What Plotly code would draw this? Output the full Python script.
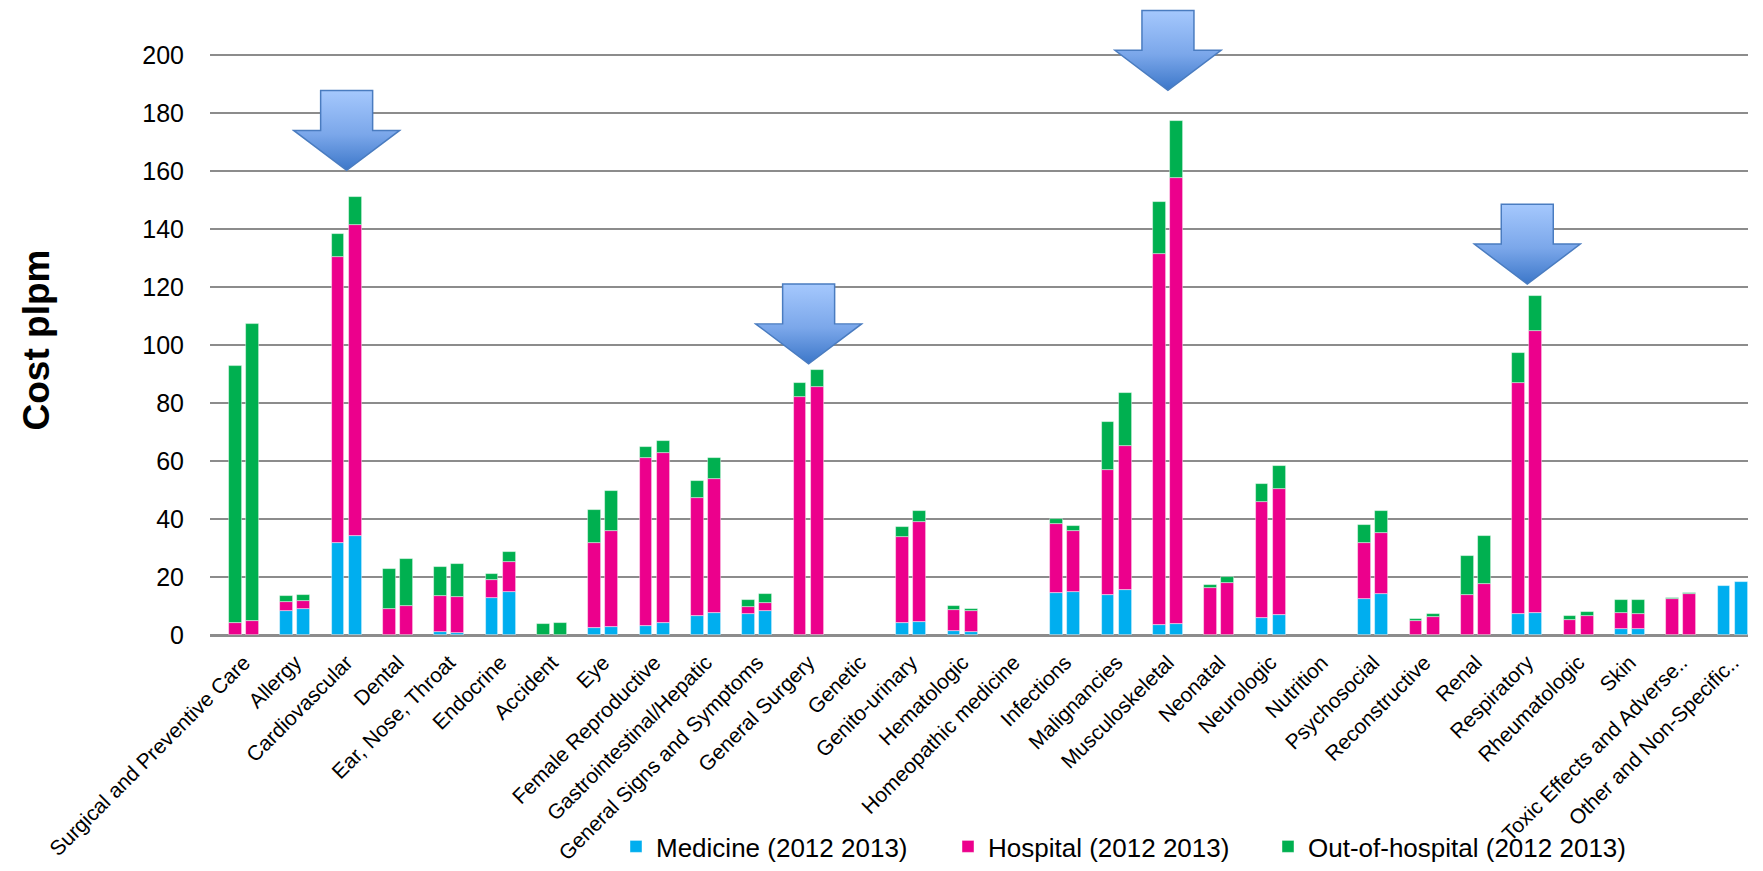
import base64
import plotly.graph_objects as go

categories = [
    "Surgical and Preventive Care", "Allergy", "Cardiovascular", "Dental",
    "Ear, Nose, Throat", "Endocrine", "Accident", "Eye", "Female Reproductive",
    "Gastrointestinal/Hepatic", "General Signs and Symptoms", "General Surgery",
    "Genetic", "Genito-urinary", "Hematologic", "Homeopathic medicine",
    "Infections", "Malignancies", "Musculoskeletal", "Neonatal", "Neurologic",
    "Nutrition", "Psychosocial", "Reconstructive", "Renal", "Respiratory",
    "Rheumatologic", "Skin", "Toxic Effects and Adverse..", "Other and Non-Specific..",
]

medicine_2012 = [0, 8.4, 31.6, 0, 0.9, 12.6, 0, 2.3, 3.2, 6.5, 7.1, 0, 0, 4.0, 1.5,
                 0, 14.5, 13.9, 3.3, 0, 5.7, 0, 12.5, 0, 0, 7.1, 0, 2.2, 0, 16.9]
hospital_2012 = [4.2, 3.1, 98.9, 9.1, 12.5, 6.2, 0, 29.3, 57.7, 40.7, 2.5, 81.9, 0, 29.9, 7.1,
                 0, 23.6, 43.1, 127.9, 16.2, 40.0, 0, 19.1, 4.8, 13.8, 79.9, 5.2, 5.4, 12.4, 0]
outside_2012 = [88.5, 1.8, 7.9, 13.7, 10.1, 2.2, 3.7, 11.6, 4.0, 5.9, 2.6, 4.9, 0, 3.2, 1.3,
                0, 1.8, 16.3, 18.1, 0.9, 6.3, 0, 6.2, 0.7, 13.4, 10.2, 1.3, 4.5, 0.2, 0]

medicine_2013 = [0, 8.8, 34.2, 0, 0.7, 14.8, 0, 2.6, 4.1, 7.7, 8.2, 0, 0, 4.5, 1.1,
                 0, 14.9, 15.5, 3.8, 0, 6.8, 0, 14.3, 0, 0, 7.7, 0, 2.2, 0, 18.2]
hospital_2013 = [4.7, 3.0, 107.2, 10.0, 12.3, 10.2, 0, 33.2, 58.5, 46.1, 2.9, 85.4, 0, 34.3, 7.1,
                 0, 20.8, 49.6, 153.9, 18.1, 43.5, 0, 21.0, 6.3, 17.6, 97.1, 6.5, 5.1, 14.1, 0]
outside_2013 = [102.4, 1.9, 9.6, 16.2, 11.4, 3.6, 4.0, 14.0, 4.4, 7.2, 3.0, 5.9, 0, 3.8, 0.6,
                0, 1.8, 18.2, 19.4, 1.8, 8.1, 0, 7.6, 1.0, 16.5, 12.2, 1.5, 4.9, 0.5, 0]

series_names = ["Medicine (2012 2013)", "Hospital (2012 2013)", "Out-of-hospital (2012 2013)"]
series_colors = ["#00AEEF", "#EC008C", "#00B050"]

# highlighted categories (arrow tip value)
highlights = [("Cardiovascular", 160.2), ("General Surgery", 93.5),
              ("Musculoskeletal", 187.8), ("Respiratory", 121.0)]

for arr in (medicine_2012, hospital_2012, outside_2012, medicine_2013, hospital_2013, outside_2013):
    assert len(arr) == len(categories)

FONT = "Liberation Sans, Arial, sans-serif"
idx = list(range(len(categories)))
OFF = 0.1675
BW = 0.25

L, R, T, B = 210, 15, 3, 235
W, H = 1763, 871
PW, PH = W - L - R, H - T - B
XR = [-0.662, 29.30]
YR = [0, 217.9]
PX_X = PW / (XR[1] - XR[0])
PX_Y = PH / (YR[1] - YR[0])

legend_ids = ["legend", "legend2", "legend3"]
legend_left_px = [616, 948, 1268]

fig = go.Figure()
data_2012 = [medicine_2012, hospital_2012, outside_2012]
data_2013 = [medicine_2013, hospital_2013, outside_2013]
for k in range(3):
    for yr, vals, off in (("2012", data_2012[k], -OFF), ("2013", data_2013[k], OFF)):
        fig.add_trace(go.Bar(
            x=[i + off for i in idx], y=[v if v else None for v in vals], width=BW,
            name=series_names[k], legendgroup=series_names[k], legend=legend_ids[k],
            showlegend=(yr == "2012"),
            marker=dict(color=series_colors[k],
                        line=dict(color="rgba(255,255,255,0.55)", width=0.8)),
        ))

# arrow graphic (gradient block arrow)
svg = """<svg xmlns='http://www.w3.org/2000/svg' width='110' height='84' viewBox='0 0 110 84' preserveAspectRatio='none'>
<defs><linearGradient id='g' x1='0' y1='0' x2='0' y2='1'>
<stop offset='0' stop-color='#A5C8FD'/><stop offset='0.55' stop-color='#7BA7EA'/><stop offset='1' stop-color='#3C77C9'/>
</linearGradient></defs>
<path d='M29,2 H81 V42 H108 L55,82 L2,42 H29 Z' fill='url(#g)' stroke='#4A7CC0' stroke-width='1.5' stroke-linejoin='miter'/>
</svg>"""
src = "data:image/svg+xml;base64," + base64.b64encode(svg.encode()).decode()

images = []
for cat, tip in highlights:
    images.append(dict(
        source=src, xref="x", yref="y", x=categories.index(cat), y=tip - 2 / PX_Y,
        sizex=110 / PX_X, sizey=84 / PX_Y, xanchor="center", yanchor="bottom",
        sizing="stretch", layer="above",
    ))

legend_common = dict(orientation="h", xanchor="left", y=(H - B - 870) / PH, yanchor="bottom",
                     bgcolor="rgba(0,0,0,0)", borderwidth=0,
                     font=dict(size=26, family=FONT, color="#000000"))
legends = {lid: dict(legend_common, x=(px - L) / PW) for lid, px in zip(legend_ids, legend_left_px)}

fig.update_layout(
    template="none",
    width=W, height=H,
    margin=dict(l=L, r=R, t=T, b=B, pad=0),
    paper_bgcolor="white", plot_bgcolor="white",
    barmode="relative", bargap=0,
    font=dict(family=FONT, color="#000000"),
    images=images,
    showlegend=True,
    **legends,
    xaxis=dict(range=XR, tickmode="array", tickvals=idx, ticktext=categories,
               tickangle=-45, tickfont=dict(size=21, family=FONT, color="#000000"),
               showgrid=False, zeroline=False, showline=False, automargin=False,
               ticks="outside", ticklen=6, tickcolor="rgba(0,0,0,0)"),
    yaxis=dict(range=YR, tickmode="linear", tick0=0, dtick=20,
               tickfont=dict(size=25, family=FONT, color="#000000"),
               showgrid=True, gridcolor="#8C8C8C", gridwidth=1.5,
               zeroline=True, zerolinecolor="#8C8C8C", zerolinewidth=2.5,
               showline=False, automargin=False,
               ticks="outside", ticklen=20, tickcolor="rgba(0,0,0,0)"),
    annotations=[dict(text="<b>Cost plpm</b>", textangle=-90, xref="paper", yref="paper",
                      x=(36 - L) / PW, y=(H - B - 341) / PH, xanchor="center", yanchor="middle",
                      showarrow=False, font=dict(size=37, family=FONT, color="#000000"))],
)

fig.write_html("out.html", config={"displayModeBar": False},
               post_script="document.body.style.margin='0';document.body.style.overflow='hidden';")
